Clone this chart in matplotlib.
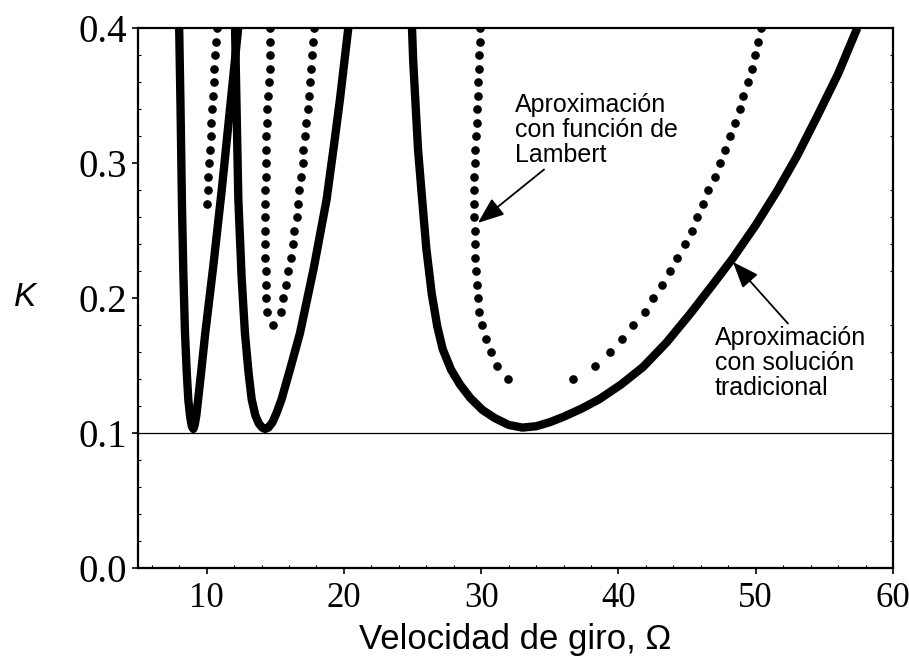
import matplotlib
matplotlib.use("Agg")
import matplotlib.pyplot as plt
from matplotlib.ticker import MultipleLocator, FormatStrFormatter

# --- aproximacion con solucion tradicional (curva continua), tres ramas ---
trad1_omega = [8.0, 8.1, 8.2, 8.3, 8.42, 8.55, 8.67, 8.8, 8.92, 9.03, 9.13, 9.25, 9.37,
               9.6, 9.9, 10.5, 11.1, 11.7, 12.3]
trad1_k = [0.40, 0.34, 0.27, 0.22, 0.175, 0.145, 0.124, 0.112, 0.105, 0.103, 0.106, 0.113, 0.124,
           0.145, 0.174, 0.225, 0.28, 0.34, 0.40]

trad2_omega = [12.07, 12.2, 12.31, 12.55, 12.79, 13.05, 13.28, 13.55, 13.8, 14.05, 14.25, 14.5,
               14.8, 15.1, 15.46, 16.1, 16.8, 17.8, 18.74, 19.3, 19.71, 20.32]
trad2_k = [0.40, 0.33, 0.273, 0.215, 0.174, 0.145, 0.125, 0.113, 0.107, 0.104, 0.103, 0.104,
           0.108, 0.115, 0.125, 0.148, 0.174, 0.222, 0.273, 0.315, 0.347, 0.40]

trad3_omega = [24.96, 25.05, 25.2, 25.4, 25.7, 26.0, 26.4, 26.8, 27.2, 27.8, 28.45, 29.2, 30.1,
               31.0, 32.0, 33.0, 34.0, 35.0, 36.0, 37.3, 38.6, 40.2, 41.8, 43.5, 45.2, 46.8,
               48.3, 50.0, 51.6, 53.0, 54.5, 56.0, 57.4]
trad3_k = [0.40, 0.375, 0.347, 0.31, 0.273, 0.237, 0.203, 0.179, 0.162, 0.147, 0.136, 0.126, 0.117,
           0.111, 0.106, 0.104, 0.105, 0.108, 0.112, 0.118, 0.125, 0.136, 0.149, 0.167, 0.188, 0.209,
           0.229, 0.254, 0.280, 0.305, 0.335, 0.366, 0.40]

# --- aproximacion con funcion de Lambert (puntos) ---
lamb1_k = [0.27, 0.28, 0.29, 0.30, 0.31, 0.32, 0.33, 0.34, 0.35, 0.36, 0.37, 0.38, 0.39, 0.40]
lamb1_omega = [10.00, 10.08, 10.13, 10.18, 10.24, 10.29, 10.35, 10.40, 10.46, 10.51, 10.57,
               10.62, 10.67, 10.72]

lamb2_k = [0.40, 0.39, 0.38, 0.37, 0.36, 0.35, 0.34, 0.33, 0.32, 0.31, 0.30, 0.29, 0.28, 0.27,
           0.26, 0.25, 0.24, 0.23, 0.22, 0.21, 0.20, 0.19, 0.18,
           0.19, 0.20, 0.21, 0.22, 0.23, 0.24, 0.25, 0.26, 0.27, 0.28, 0.29, 0.30, 0.31, 0.32,
           0.33, 0.34, 0.35, 0.36, 0.37, 0.38, 0.39, 0.40]
lamb2_omega = [14.62, 14.64, 14.61, 14.58, 14.55, 14.49, 14.43, 14.39, 14.36, 14.33, 14.31, 14.29,
               14.27, 14.26, 14.25, 14.25, 14.26, 14.27, 14.29, 14.32, 14.36, 14.42, 14.86,
               15.39, 15.59, 15.76, 15.95, 16.12, 16.27, 16.39, 16.56, 16.63, 16.72, 16.85, 16.99,
               17.04, 17.17, 17.21, 17.41, 17.46, 17.53, 17.60, 17.65, 17.77, 17.84]

lamb3_k = [0.40, 0.39, 0.38, 0.37, 0.36, 0.35, 0.34, 0.33, 0.32, 0.31, 0.30, 0.29, 0.28, 0.27,
           0.26, 0.25, 0.24, 0.23, 0.22, 0.21, 0.20, 0.19, 0.18, 0.17, 0.16, 0.15, 0.14]
lamb3_left = [29.91, 29.91, 29.84, 29.84, 29.79, 29.74, 29.67, 29.67, 29.62, 29.54, 29.54, 29.47,
              29.47, 29.47, 29.47, 29.54, 29.54, 29.54, 29.62, 29.67, 29.74, 29.86, 30.03, 30.35,
              30.69, 31.17, 31.97]
lamb3_right = [50.42, 50.18, 49.94, 49.70, 49.45, 49.09, 48.85, 48.48, 48.12, 47.75, 47.39, 47.02,
               46.54, 46.17, 45.69, 45.33, 44.84, 44.23, 43.75, 43.14, 42.53, 41.93, 41.08, 40.23,
               39.38, 38.28, 36.70]

k_limite = 0.1

fig = plt.figure(figsize=(9.09, 6.64), dpi=100)
ax = fig.add_axes([138 / 909, 1 - 568 / 664, 755 / 909, 540 / 664])

ax.axhline(k_limite, color='black', lw=0.9, zorder=1)

for om, kk in [(trad1_omega, trad1_k), (trad2_omega, trad2_k), (trad3_omega, trad3_k)]:
    ax.plot(om, kk, color='black', lw=6, solid_joinstyle='round', solid_capstyle='butt', zorder=3)

dot = dict(ls='none', marker='o', ms=5.2, color='black', mec='black', zorder=4)
ax.plot(lamb1_omega, lamb1_k, **dot)
ax.plot(lamb2_omega, lamb2_k, **dot)
ax.plot(lamb3_left, lamb3_k, **dot)
ax.plot(lamb3_right, lamb3_k, **dot)

ax.set_xlim(5, 60)
ax.set_ylim(0, 0.4)
ax.xaxis.set_major_locator(MultipleLocator(10))
ax.xaxis.set_minor_locator(MultipleLocator(2))
ax.yaxis.set_major_locator(MultipleLocator(0.1))
ax.yaxis.set_minor_locator(MultipleLocator(0.02))
ax.yaxis.set_major_formatter(FormatStrFormatter('%.1f'))

ax.tick_params(which='major', direction='out', length=4, width=1.2,
               labelfontfamily='Liberation Serif')
ax.tick_params(axis='y', which='major', labelsize=28, pad=4)
ax.tick_params(axis='x', which='major', labelsize=25, pad=6)
ax.tick_params(which='minor', direction='in', length=2.5, width=0.8, right=True, top=False)
for s in ax.spines.values():
    s.set_linewidth(1.6)
    s.set_color('black')

ax.set_xlabel('Velocidad de giro, \u03a9', fontsize=25, family='Liberation Sans', labelpad=6)
fig.text(25 / 909, 1 - 297 / 664, 'K', fontsize=24, family='Liberation Sans', style='italic',
         ha='center', va='center')

ax.annotate('Aproximación\ncon función de\nLambert', xy=(29.76, 0.2556), xytext=(32.46, 0.352),
            fontsize=18, family='Liberation Sans', ha='left', va='top', linespacing=1.05,
            arrowprops=dict(arrowstyle='-|>,head_length=0.9,head_width=0.35', color='black',
                            lw=1.3, shrinkA=0, shrinkB=0, relpos=(0.2, 0.0)))
ax.annotate('Aproximación\ncon solución\ntradicional', xy=(48.34, 0.2267), xytext=(47.02, 0.179),
            fontsize=18, family='Liberation Sans', ha='left', va='top', linespacing=1.05,
            arrowprops=dict(arrowstyle='-|>,head_length=0.9,head_width=0.35', color='black',
                            lw=1.3, shrinkA=0, shrinkB=0, relpos=(0.5, 1.0)))

fig.savefig('out.png', dpi=100)
